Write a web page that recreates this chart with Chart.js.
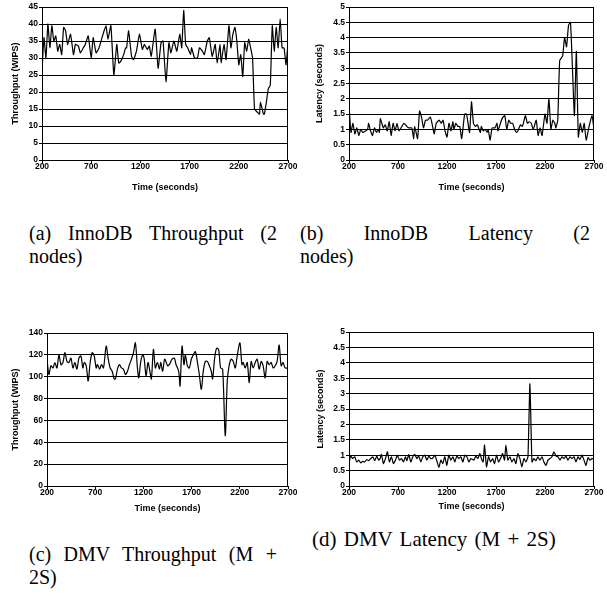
<!DOCTYPE html>
<html>
<head>
<meta charset="utf-8">
<script src="https://cdn.jsdelivr.net/npm/chart.js@4/dist/chart.umd.min.js"></script>
<style>
  html, body { margin: 0; padding: 0; background: #fff; }
  body { width: 607px; height: 600px; position: relative; overflow: hidden; }
  canvas { position: absolute; }
  .cap { position: absolute; font-family: 'Liberation Serif', 'Times New Roman', serif; font-size: 20px; line-height: 23px; color: #000; white-space: nowrap; }
  .just { text-align: justify; text-align-last: justify; }
</style>
</head>
<body>
<canvas id="ca" width="300" height="200" style="left:0;top:0;width:300px;height:200px"></canvas>
<canvas id="cb" width="307" height="200" style="left:300px;top:0;width:307px;height:200px"></canvas>
<canvas id="cc" width="300" height="200" style="left:0;top:320px;width:300px;height:200px"></canvas>
<canvas id="cd" width="307" height="200" style="left:300px;top:320px;width:307px;height:200px"></canvas>

<div class="cap just" style="left:29px;top:222px;width:248px">(a) InnoDB Throughput (2</div>
<div class="cap" style="left:29px;top:245px">nodes)</div>
<div class="cap just" style="left:300px;top:222px;width:290px">(b) InnoDB Latency (2</div>
<div class="cap" style="left:300px;top:245px">nodes)</div>
<div class="cap just" style="left:29px;top:543px;width:248px">(c) DMV Throughput (M +</div>
<div class="cap" style="left:29px;top:566px">2S)</div>
<div class="cap" style="left:312px;top:528px;font-size:21px;word-spacing:2px">(d) DMV Latency (M + 2S)</div>

<script>
// ---------------- DATA ----------------
const xTicks = [200, 700, 1200, 1700, 2200, 2700];
const yTicksThroughputA = [0, 5, 10, 15, 20, 25, 30, 35, 40, 45];
const yTicksLatency = [0, 0.5, 1, 1.5, 2, 2.5, 3, 3.5, 4, 4.5, 5];
const yTicksThroughputC = [0, 20, 40, 60, 80, 100, 120, 140];

// (a) InnoDB Throughput (2 nodes)
const timeA = [200,220,240,260,280,300,320,340,360,380,400,420,440,460,490,520,540,570,590,620,640,670,700,720,750,780,810,850,870,900,930,960,980,1000,1030,1050,1060,1080,1110,1130,1160,1190,1220,1240,1270,1290,1310,1350,1380,1410,1430,1460,1490,1510,1540,1570,1600,1620,1640,1660,1680,1710,1720,1750,1780,1800,1830,1850,1880,1900,1930,1960,1980,2010,2020,2050,2070,2100,2120,2140,2160,2180,2200,2220,2240,2260,2280,2300,2320,2340,2360,2390,2410,2420,2450,2460,2480,2500,2520,2540,2560,2580,2600,2620,2640,2660,2680,2700];
const throughputA = [26,36,30,40,33,39.5,35,36.5,32,34,31,39,38,34,37,31,34,33.5,31.5,33,34,36.5,30,36,31.5,33,36,39.5,35.5,39.5,25,34,28.5,29,31,33,33,38,30.5,29.5,32,37,32.5,34,32.5,33.5,30.5,38.5,27,34.5,35,23,34.5,31.5,35,32,37,33,44,34,33,31,33,30,30,33,32,31,35,36,30.5,34,28.5,34,28.5,34,29.5,39.5,33,37,39,35,28,31,24.5,34.5,32,35.5,33,30,15,14,13.5,17,13.5,13.5,17,21,22,39.5,32,39,33,41.5,33,33,28,34.5];

// (b) InnoDB Latency (2 nodes)
const timeB = [200,220,240,260,280,300,320,340,370,390,400,420,440,460,480,500,510,520,550,570,590,610,630,650,670,690,710,760,790,810,840,860,870,900,920,940,960,980,1000,1030,1050,1070,1090,1120,1140,1160,1180,1200,1220,1240,1260,1270,1290,1310,1330,1350,1380,1400,1430,1450,1470,1490,1510,1540,1550,1570,1590,1610,1620,1640,1660,1690,1710,1720,1750,1770,1790,1810,1830,1850,1870,1890,1910,1930,1950,1970,2000,2020,2040,2060,2080,2110,2130,2150,2170,2200,2220,2240,2260,2280,2300,2310,2330,2350,2380,2400,2420,2440,2460,2480,2500,2520,2540,2560,2580,2600,2620,2650,2680,2700];
const latencyB = [1.8,0.9,1.2,0.85,1.05,0.8,1.0,0.9,0.95,1.0,1.2,0.95,0.8,1.05,0.9,1.0,0.9,1.35,1.05,1.15,0.95,1.25,0.8,1.2,0.95,1.2,0.95,1.2,1.1,1.05,1.05,0.7,1.1,0.7,1.6,1.4,1.05,1.3,1.3,1.4,1.15,0.85,1.2,1.3,1.2,1.3,0.95,0.75,1.2,0.95,1.25,1.0,1.2,1.1,1.1,0.7,1.5,1.5,0.9,1.9,1.2,1.1,1.15,0.9,1.1,0.95,1.0,0.9,1.0,0.65,1.05,1.05,1.2,0.95,1.25,1.4,1.45,1.0,1.3,1.2,1.2,1.0,0.9,1.0,1.15,1.1,1.45,1.2,1.25,1.2,1.0,1.3,0.8,1.05,0.8,1.5,1.2,2.0,1.0,1.3,1.2,1.05,1.3,3.25,3.4,4.0,3.7,4.4,4.5,3.0,1.45,3.55,0.75,1.2,0.9,1.2,0.65,1.1,1.45,1.0];

// (c) DMV Throughput (M + 2S)
const timeC = [200,220,241,262,282,303,324,345,365,386,407,427,448,469,489,510,531,552,572,586,607,627,648,669,690,710,724,745,765,786,814,834,855,876,897,910,931,952,972,993,1014,1035,1055,1076,1097,1117,1138,1152,1173,1193,1207,1228,1248,1269,1283,1304,1324,1345,1366,1380,1400,1421,1452,1475,1497,1521,1539,1566,1580,1601,1621,1635,1656,1677,1697,1718,1739,1759,1780,1801,1821,1842,1863,1884,1904,1918,1939,1959,1980,2001,2022,2049,2070,2091,2111,2132,2153,2173,2201,2222,2235,2256,2277,2298,2318,2339,2360,2380,2401,2422,2442,2463,2484,2505,2525,2546,2567,2587,2608,2629,2649,2670,2700];
const throughputC = [116,102,110,108,113,108,120,111,113,122,114,113,117,108,113,107,117,119,108,113,110,96,113,122,119,108,111,107,111,108,128,117,108,105,98,98,107,111,108,107,102,105,111,116,122,131,108,99,114,120,117,101,113,104,98,125,108,113,107,113,105,116,110,112,116,117,111,105,91.5,128,111,120,110,108,116,120,123,114,102,88.5,105,114,114,110,105,98,117,126,125,108,107,46,96,111,116,114,108,119,131,111,113,108,113,94.5,114,108,113,116,107,114,110,99,114,111,113,108,110,114,129,110,113,108,108];

// (d) DMV Latency (M + 2S)
const timeD = [200,217,238,258,279,299,320,340,360,381,401,422,442,463,483,503,517,531,551,572,592,612,633,653,674,694,715,735,755,776,790,810,830,851,871,892,912,933,953,973,994,1014,1035,1055,1076,1096,1117,1137,1157,1178,1198,1219,1239,1260,1280,1300,1321,1341,1362,1382,1403,1423,1443,1474,1494,1515,1535,1556,1569,1583,1603,1624,1644,1665,1685,1705,1726,1746,1767,1787,1801,1821,1842,1862,1883,1903,1923,1944,1964,1985,2005,2026,2046,2067,2087,2107,2128,2148,2169,2189,2210,2230,2250,2271,2291,2312,2332,2353,2373,2393,2414,2434,2455,2475,2496,2516,2537,2557,2577,2598,2618,2639,2659,2680,2700];
const latencyD = [0.73,0.98,0.89,0.95,0.78,0.84,0.75,0.8,0.78,0.86,0.82,0.89,0.95,0.82,0.97,0.84,0.89,1.03,0.73,0.89,1.11,0.78,0.95,0.73,0.84,1.0,0.84,0.89,0.78,0.95,0.82,1.02,0.78,0.95,1.03,0.89,0.97,0.78,0.95,1.0,0.84,0.97,0.89,0.91,1.0,0.82,0.6,0.84,0.73,0.95,0.67,1.0,0.84,0.95,0.78,0.97,0.89,0.95,0.78,1.0,0.95,0.78,0.89,0.84,0.97,0.89,1.05,0.84,0.78,1.33,0.62,0.95,0.78,0.89,0.73,1.0,0.78,0.89,1.05,0.84,1.33,0.84,0.95,0.78,0.89,0.73,1.05,0.89,0.62,0.89,0.78,0.95,3.32,0.78,0.89,0.82,0.95,0.84,0.95,0.78,0.67,0.84,0.89,0.95,1.11,0.97,0.95,0.84,0.95,0.89,0.97,0.84,0.95,0.89,0.95,0.78,0.95,0.86,1.0,0.84,0.67,0.92,0.84,0.89,0.89];

// ---------------- RENDER ----------------
Chart.defaults.font.family = "'Liberation Sans', Arial, sans-serif";
Chart.defaults.font.weight = 'bold';
Chart.defaults.font.size = 8.5;
Chart.defaults.color = '#000';

const frame = {
  id: 'frame',
  afterDraw(chart) {
    const {ctx, chartArea: a} = chart;
    ctx.save();
    ctx.strokeStyle = '#000';
    ctx.lineWidth = 1;
    const x = Math.round(a.right) - 0.5;
    ctx.beginPath();
    ctx.moveTo(x, Math.round(a.top));
    ctx.lineTo(x, Math.round(a.bottom));
    ctx.stroke();
    ctx.restore();
  }
};

function makeChart(id, times, values, yTicks, yTitle, L) {
  const pts = times.map((t, i) => ({x: t, y: values[i]}));
  const font = {family: "'Liberation Sans', Arial, sans-serif", weight: 'bold', size: 8.5};
  const tfont = {family: "'Liberation Sans', Arial, sans-serif", weight: 'bold', size: 9};
  return new Chart(document.getElementById(id), {
    type: 'line',
    data: { datasets: [{ data: pts, borderColor: '#000', borderWidth: 1.2, pointRadius: 0, tension: L.tension, fill: false }] },
    options: {
      responsive: false, animation: false, devicePixelRatio: 1,
      layout: { padding: { top: L.top, right: L.w - L.right, left: 0, bottom: 0 } },
      plugins: { legend: { display: false }, tooltip: { enabled: false } },
      scales: {
        x: {
          type: 'linear', min: 200, max: 2700,
          afterBuildTicks: s => { s.ticks = xTicks.map(v => ({value: v})); },
          afterFit: s => { s.height = L.h - L.bottom; },
          ticks: { font, color: '#000', padding: L.xTickPad, maxRotation: 0, autoSkip: false, callback: v => String(v) },
          grid: { drawOnChartArea: false, drawTicks: true, tickLength: 3, color: '#000', lineWidth: 1 },
          border: { display: true, color: '#000', width: 1 },
          title: { display: true, text: 'Time (seconds)', color: '#000', font: tfont, padding: { top: 0, bottom: L.xTitlePad } }
        },
        y: {
          min: yTicks[0], max: yTicks[yTicks.length - 1],
          afterBuildTicks: s => { s.ticks = yTicks.map(v => ({value: v})); },
          afterFit: s => { s.width = L.left; },
          ticks: { font, color: '#000', padding: 1, autoSkip: false, callback: v => String(v) },
          grid: { drawTicks: true, tickLength: 3, color: '#000', lineWidth: 1 },
          border: { display: true, color: '#000', width: 1 },
          title: { display: true, text: yTitle, color: '#000', font: tfont, padding: { top: L.yTitlePad, bottom: 0 } }
        }
      }
    },
    plugins: [frame]
  });
}

makeChart('ca', timeA, throughputA, yTicksThroughputA, 'Throughput (WIPS)',
  {w: 300, h: 200, left: 42, top: 7, right: 288, bottom: 160, xTickPad: -1, xTitlePad: 7, yTitlePad: 10, tension: 0.15});
makeChart('cb', timeB, latencyB, yTicksLatency, 'Latency (seconds)',
  {w: 307, h: 200, left: 49, top: 7, right: 594 - 300, bottom: 160, xTickPad: -1, xTitlePad: 7, yTitlePad: 14, tension: 0.15});
makeChart('cc', timeC, throughputC, yTicksThroughputC, 'Throughput (WIPS)',
  {w: 300, h: 200, left: 47, top: 13, right: 288, bottom: 166, xTickPad: -1, xTitlePad: 6, yTitlePad: 10, tension: 0.3});
makeChart('cd', timeD, latencyD, yTicksLatency, 'Latency (seconds)',
  {w: 307, h: 200, left: 49, top: 12, right: 594 - 300, bottom: 166, xTickPad: -1, xTitlePad: 8, yTitlePad: 15, tension: 0.15});
</script>
</body>
</html>
